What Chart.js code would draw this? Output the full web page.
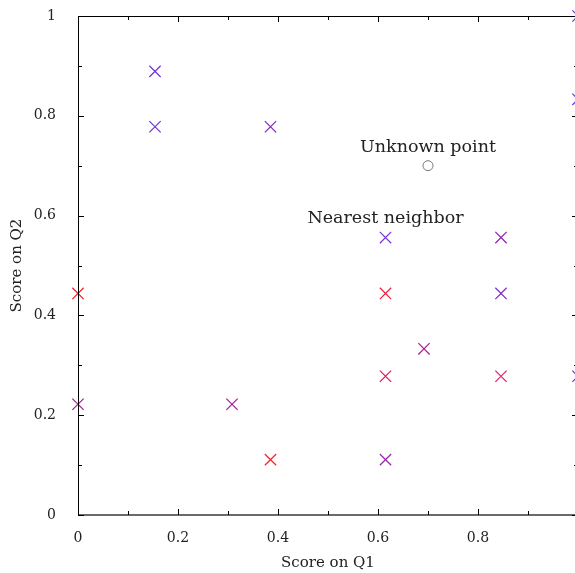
<!DOCTYPE html>
<html>
<head>
<meta charset="utf-8">
<script src="https://cdn.jsdelivr.net/npm/chart.js@4.4.1/dist/chart.umd.min.js"></script>
<style>
    html, body { margin: 0; padding: 0; background: #fff; overflow: hidden; }
    #wrap { width: 575px; height: 573px; overflow: hidden; }
</style>
</head>
<body>
<div id="wrap"><canvas id="knnChart" width="600" height="573"></canvas></div>
<script>
// Scores of the labelled students
const q1Scores = [0.154, 0.154, 0.385, 0.615, 0.846, 0, 0.615, 0.846, 0.692, 0.615, 0.846, 1, 0, 0.308, 0.385, 0.615, 1, 1];
const q2Scores = [0.889, 0.778, 0.778, 0.556, 0.556, 0.444, 0.444, 0.444, 0.333, 0.278, 0.278, 0.278, 0.222, 0.222, 0.111, 0.111, 1, 0.833];
const pointColors = [
    "#7432d8", "#7432d8", "#8226c0", "#7432d8", "#8a1fb0", "#ff1a1a",
    "#f01a3a", "#7a2cc8", "#a8208e", "#e01858", "#e02070", "#8030c0",
    "#a02090", "#a02090", "#ff2020", "#9628a8", "#7432d8", "#7432d8"
];

// The query point and its nearest neighbour
const unknownPoint = { x: 0.7, y: 0.7 };
const nearestPoint = { x: 0.615, y: 0.556 };

const xTickLabels = ["0", "0.2", "0.4", "0.6", "0.8", ""];
const yTickLabels = ["0", "0.2", "0.4", "0.6", "0.8", "1"];

const serif = "'DejaVu Serif', serif";

const scatterData = q1Scores.map((x, i) => ({ x: x, y: q2Scores[i] }));

// inward ticks, frame and annotations
const framePlugin = {
    id: "frame",
    afterDraw(chart) {
        const ctx = chart.ctx;
        const xs = chart.scales.x;
        const ys = chart.scales.y;
        const a = chart.chartArea;
        ctx.save();

        // frame
        ctx.strokeStyle = "#000";
        ctx.lineWidth = 1;
        ctx.beginPath();
        ctx.moveTo(a.left + 0.5, a.bottom);
        ctx.lineTo(a.left + 0.5, a.top + 0.5);
        ctx.lineTo(a.right, a.top + 0.5);
        ctx.lineTo(a.right, a.bottom);
        ctx.stroke();
        ctx.strokeStyle = "#6a6a6a";
        ctx.lineWidth = 2;
        ctx.beginPath();
        ctx.moveTo(a.left, a.bottom);
        ctx.lineTo(a.right, a.bottom);
        ctx.stroke();

        // ticks every 0.1, longer at 0.2
        ctx.strokeStyle = "#000";
        ctx.lineWidth = 1;
        for (let i = 0; i <= 10; i++) {
            const v = i / 10;
            const len = i % 2 === 0 ? 6 : 4;
            const px = Math.round(xs.getPixelForValue(v)) + 0.5;
            const py = Math.round(ys.getPixelForValue(v)) + 0.5;
            ctx.beginPath();
            ctx.moveTo(px, a.bottom); ctx.lineTo(px, a.bottom - len);
            ctx.moveTo(px, a.top); ctx.lineTo(px, a.top + len);
            ctx.moveTo(a.left, py); ctx.lineTo(a.left + len, py);
            ctx.moveTo(a.right, py); ctx.lineTo(a.right - len, py);
            ctx.stroke();
        }

        // annotations
        ctx.fillStyle = "#222";
        ctx.font = "17.5px " + serif;
        ctx.textAlign = "center";
        ctx.textBaseline = "middle";
        ctx.fillText("Unknown point", xs.getPixelForValue(unknownPoint.x), ys.getPixelForValue(unknownPoint.y) - 18);
        ctx.fillText("Nearest neighbor", xs.getPixelForValue(nearestPoint.x), ys.getPixelForValue(nearestPoint.y) - 19);

        // axis titles
        ctx.font = "15px " + serif;
        ctx.fillText("Score on Q1", (a.left + 500 / 2), 563);
        ctx.translate(17, (a.top + a.bottom) / 2);
        ctx.rotate(-Math.PI / 2);
        ctx.fillText("Score on Q2", 0, 0);
        ctx.restore();
    }
};

new Chart(document.getElementById("knnChart"), {
    type: "scatter",
    data: {
        datasets: [
            {
                label: "Students",
                data: scatterData,
                clip: false,
                pointStyle: "crossRot",
                pointRadius: 8,
                pointBorderWidth: 1.2,
                borderColor: pointColors,
                backgroundColor: pointColors
            },
            {
                label: "Unknown",
                data: [unknownPoint],
                clip: false,
                pointStyle: "circle",
                pointRadius: 5,
                pointBorderWidth: 1,
                borderColor: "#777",
                backgroundColor: "rgba(0,0,0,0)"
            }
        ]
    },
    options: {
        responsive: false,
        animation: false,
        layout: { padding: { top: 16, right: 22, left: 0, bottom: 0 } },
        plugins: {
            legend: { display: false },
            tooltip: { enabled: false }
        },
        scales: {
            x: {
                min: 0,
                max: 1,
                grid: { display: false },
                border: { display: false },
                afterFit(scale) {
                    scale.height = 58;
                    scale.paddingLeft = 0;
                    scale.paddingRight = 0;
                },
                ticks: {
                    stepSize: 0.2,
                    padding: 7,
                    maxRotation: 0,
                    color: "#222",
                    font: { family: serif, size: 14 },
                    callback: (v, i) => xTickLabels[i]
                }
            },
            y: {
                min: 0,
                max: 1,
                grid: { display: false },
                border: { display: false },
                afterFit(scale) {
                    scale.width = 78;
                    scale.paddingTop = 0;
                    scale.paddingBottom = 0;
                },
                ticks: {
                    stepSize: 0.2,
                    padding: 14,
                    color: "#222",
                    font: { family: serif, size: 14 },
                    callback: (v, i) => yTickLabels[i]
                }
            }
        }
    },
    plugins: [framePlugin]
});
</script>
</body>
</html>
